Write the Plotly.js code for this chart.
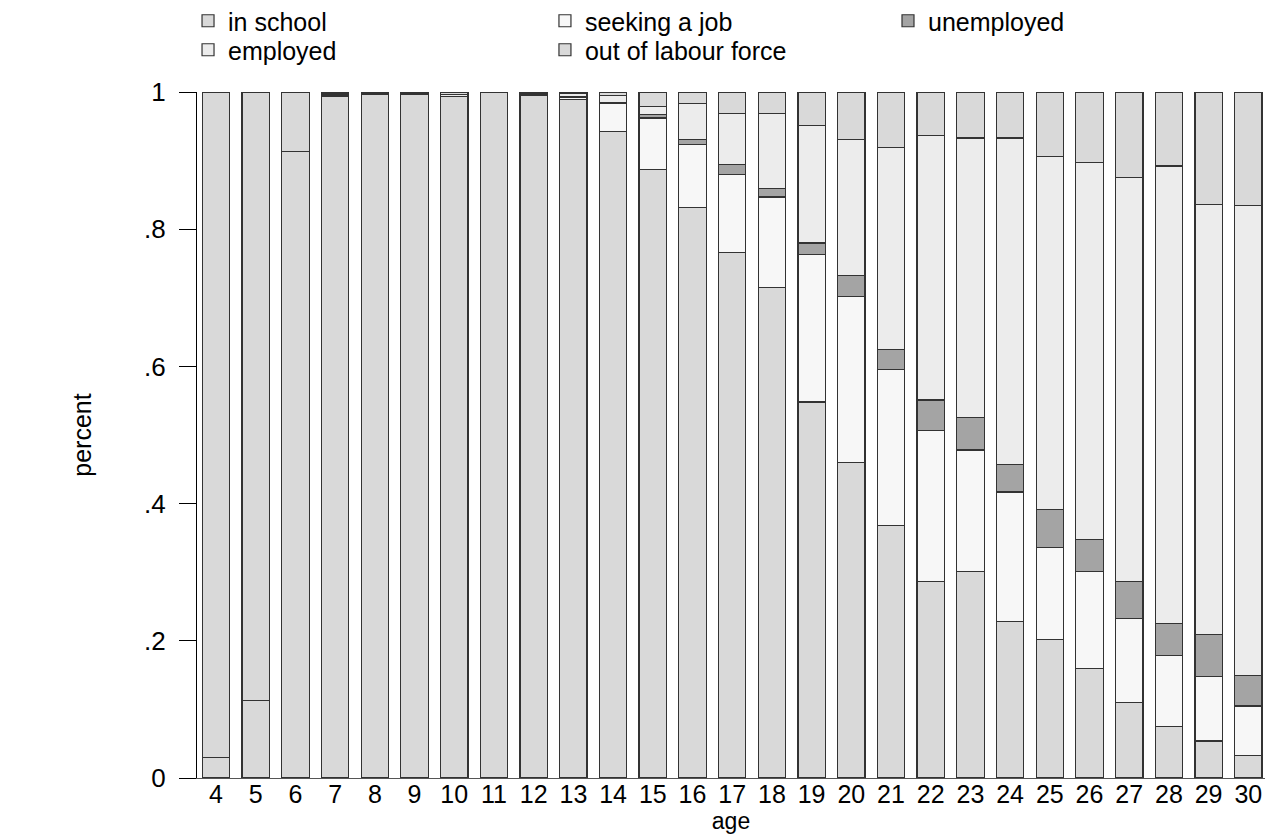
<!DOCTYPE html>
<html>
<head>
<meta charset="utf-8">
<script src="https://cdn.plot.ly/plotly-3.0.1.min.js"></script>
<style>html,body{margin:0;padding:0;background:#fff;}#chart{width:1267px;height:836px;}</style>
</head>
<body>
<div id="chart"></div>
<script>
const ages = [4,5,6,7,8,9,10,11,12,13,14,15,16,17,18,19,20,21,22,23,24,25,26,27,28,29,30];
const inSchool   = [0.030,0.113,0.913,0.993,0.996,0.997,0.994,1.000,0.995,0.989,0.942,0.887,0.832,0.766,0.715,0.548,0.460,0.368,0.287,0.301,0.228,0.202,0.160,0.110,0.075,0.054,0.033];
const seekingJob = [0,0,0,0.001,0,0,0,0,0.002,0.003,0.041,0.075,0.092,0.114,0.132,0.215,0.242,0.227,0.219,0.177,0.189,0.134,0.141,0.122,0.103,0.094,0.072];
const unemployed = [0,0,0,0.001,0,0.001,0,0,0,0.002,0.002,0.005,0.007,0.014,0.012,0.017,0.031,0.030,0.045,0.047,0.040,0.055,0.047,0.055,0.047,0.061,0.044];
const employed   = [0,0,0,0.002,0.001,0.001,0.002,0,0.002,0.004,0.010,0.012,0.052,0.075,0.110,0.171,0.198,0.294,0.386,0.408,0.476,0.515,0.549,0.588,0.667,0.627,0.685];
const outLabour  = [0.970,0.887,0.087,0.003,0.003,0.001,0.004,0,0.001,0.002,0.005,0.021,0.017,0.031,0.031,0.049,0.069,0.081,0.063,0.067,0.067,0.094,0.103,0.125,0.108,0.164,0.166];
const yTickVals = [0,0.2,0.4,0.6,0.8,1];
const yTickText = ["0",".2",".4",".6",".8","1"];
const gridVals = [0.2,0.4,0.6,0.8];

const FONT = "Liberation Sans, Arial, sans-serif";
function mk(name, y, color, legend){
  return {type:'bar', name:name, x:ages, y:y, legend:legend,
    marker:{color:color, line:{color:'#333333', width:1.2}},
    hoverinfo:'skip'};
}
const traces = [
  mk('in school', inSchool, '#d9d9d9', 'legend'),
  mk('seeking a job', seekingJob, '#f7f7f7', 'legend2'),
  mk('unemployed', unemployed, '#a4a4a4', 'legend3'),
  mk('employed', employed, '#ececec', 'legend4'),
  mk('out of labour force', outLabour, '#d9d9d9', 'legend5')
];
function leg(x, y){
  return {orientation:'v', yanchor:'middle', xanchor:'left', x:x, y:y,
    font:{family:FONT, size:25, color:'#000'}, bgcolor:'rgba(0,0,0,0)',
    traceorder:'normal', itemwidth:30};
}
// legend row centres (paper units, plot area spans pixels 92..778)
const row1 = (778 - 21) / 686;
const row2 = (778 - 50) / 686;
const layout = {
  width:1267, height:836,
  margin:{l:197, r:2, t:92, b:58, autoexpand:false},
  paper_bgcolor:'#fff', plot_bgcolor:'#fff',
  barmode:'stack', bargap:0.31,
  font:{family:FONT, size:26, color:'#000'},
  showlegend:true,
  legend:leg(-0.0084, row1),
  legend2:leg(0.3258, row1),
  legend3:leg(0.647, row1),
  legend4:leg(-0.0084, row2),
  legend5:leg(0.3258, row2),
  xaxis:{range:[3.52,30.42], tickvals:ages, ticktext:ages.map(String), ticks:'', showgrid:false,
    zeroline:false, showline:true, linecolor:'#555', linewidth:1, ticklabelstandoff:-6,
    tickfont:{family:FONT, size:25, color:'#000'},
    title:{text:'age', font:{family:FONT, size:23, color:'#000'}, standoff:3}},
  yaxis:{range:[0,1], tickvals:yTickVals, ticktext:yTickText, ticks:'outside', ticklen:17,
    tickcolor:'#000', tickwidth:1, showgrid:false, zeroline:false, showline:true,
    linecolor:'#000', linewidth:1, ticklabelstandoff:8, tickfont:{family:FONT, size:26, color:'#000'},
    title:{text:'percent', font:{family:FONT, size:25, color:'#000'}, standoff:45}},
  yaxis2:{overlaying:'y', range:[0,1], tickvals:gridVals, showticklabels:false, ticks:'',
    showgrid:true, gridcolor:'#707070', gridwidth:1, zeroline:false, showline:false, layer:'below traces'}
};
Plotly.newPlot('chart', traces, layout, {displayModeBar:false, staticPlot:true});
</script>
</body>
</html>
